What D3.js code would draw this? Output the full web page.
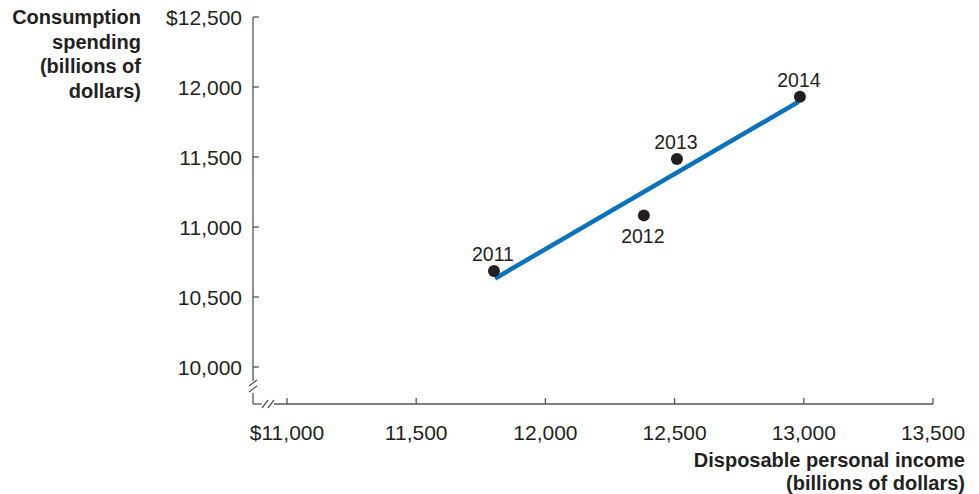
<!DOCTYPE html>
<html>
<head>
<meta charset="utf-8">
<script src="https://cdn.jsdelivr.net/npm/d3@7"></script>
<style>
  body { margin: 0; background: #fff; }
  svg { display: block; font-family: "Liberation Sans", Arial, Helvetica, sans-serif; }
</style>
</head>
<body>
<svg id="chart" width="979" height="494"></svg>
<script>
// Disposable personal income vs. consumption spending, billions of dollars
const years = ["2011", "2012", "2013", "2014"];
const income = [11801, 12381, 12509, 12985];
const consumption = [10686, 11083, 11486, 11930];
const labelPos = ["above", "below", "above", "above"];

// Fitted line endpoints
const fitIncome = [11805, 12980];
const fitConsumption = [10632, 11895];

const xTicks = [11000, 11500, 12000, 12500, 13000, 13500];
const yTicks = [10000, 10500, 11000, 11500, 12000, 12500];

const svg = d3.select("#chart");
const axisColor = "#555";
const textColor = "#231f20";

// Plot frame
const x0 = 253, yAxisBottom = 404;
const x = d3.scaleLinear().domain([11000, 13500]).range([287, 933]);
const y = d3.scaleLinear().domain([10000, 12500]).range([367, 17]);

const fmtX = d => (d === 11000 ? "$" : "") + d3.format(",")(d);
const fmtY = d => (d === 12500 ? "$" : "") + d3.format(",")(d);

// Y axis line, with a break near the bottom
const g = svg.append("g").attr("stroke", axisColor).attr("stroke-width", 1.3).attr("fill", "none");
g.append("line").attr("x1", x0).attr("x2", x0).attr("y1", y(12500)).attr("y2", 381);
g.append("line").attr("x1", x0).attr("x2", x0).attr("y1", 393).attr("y2", yAxisBottom);
g.append("line").attr("x1", x0 - 4).attr("x2", x0 + 4).attr("y1", 386).attr("y2", 380);
g.append("line").attr("x1", x0 - 4).attr("x2", x0 + 4).attr("y1", 392).attr("y2", 386);

// X axis line, with a break near the left
g.append("line").attr("x1", x0).attr("x2", 262).attr("y1", yAxisBottom).attr("y2", yAxisBottom);
g.append("line").attr("x1", 274).attr("x2", x(13500)).attr("y1", yAxisBottom).attr("y2", yAxisBottom);
g.append("line").attr("x1", 262).attr("x2", 268).attr("y1", yAxisBottom + 4).attr("y2", yAxisBottom - 4);
g.append("line").attr("x1", 268).attr("x2", 274).attr("y1", yAxisBottom + 4).attr("y2", yAxisBottom - 4);

// Ticks point into the plot
g.selectAll(".yt").data(yTicks).join("line")
  .attr("x1", x0).attr("x2", x0 + 6)
  .attr("y1", d => y(d)).attr("y2", d => y(d));
g.selectAll(".xt").data(xTicks).join("line")
  .attr("x1", d => x(d)).attr("x2", d => x(d))
  .attr("y1", yAxisBottom).attr("y2", yAxisBottom - 6);

// Tick labels
svg.append("g").selectAll("text").data(yTicks).join("text")
  .attr("x", 242).attr("y", d => y(d)).attr("dy", "0.36em")
  .attr("text-anchor", "end").attr("font-size", 21).attr("fill", textColor)
  .text(fmtY);
svg.append("g").selectAll("text").data(xTicks).join("text")
  .attr("x", d => x(d)).attr("y", 432).attr("dy", "0.36em")
  .attr("text-anchor", "middle").attr("font-size", 21).attr("fill", textColor)
  .text(fmtX);

// Axis titles
const yTitle = ["Consumption", "spending", "(billions of", "dollars)"];
svg.append("g").selectAll("text").data(yTitle).join("text")
  .attr("x", 141).attr("y", (d, i) => 24 + i * 24.7)
  .attr("text-anchor", "end").attr("font-size", 20).attr("font-weight", "bold").attr("fill", textColor)
  .text(d => d);
const xTitle = ["Disposable personal income", "(billions of dollars)"];
svg.append("g").selectAll("text").data(xTitle).join("text")
  .attr("x", 965).attr("y", (d, i) => 467 + i * 22.5)
  .attr("text-anchor", "end").attr("font-size", 20).attr("font-weight", "bold").attr("fill", textColor)
  .text(d => d);

// Fitted line
svg.append("line")
  .attr("x1", x(fitIncome[0])).attr("y1", y(fitConsumption[0]))
  .attr("x2", x(fitIncome[1])).attr("y2", y(fitConsumption[1]))
  .attr("stroke", "#0b72bc").attr("stroke-width", 4.5);

// Observations
const pts = years.map((yr, i) => ({ yr, inc: income[i], con: consumption[i], pos: labelPos[i] }));
svg.append("g").selectAll("circle").data(pts).join("circle")
  .attr("cx", d => x(d.inc)).attr("cy", d => y(d.con)).attr("r", 6)
  .attr("fill", textColor);
svg.append("g").selectAll("text").data(pts).join("text")
  .attr("x", d => x(d.inc) - 1)
  .attr("y", d => y(d.con) + (d.pos === "above" ? -17 : 21))
  .attr("dy", "0.36em")
  .attr("text-anchor", "middle").attr("font-size", 19.5).attr("fill", textColor)
  .text(d => d.yr);
</script>
</body>
</html>
